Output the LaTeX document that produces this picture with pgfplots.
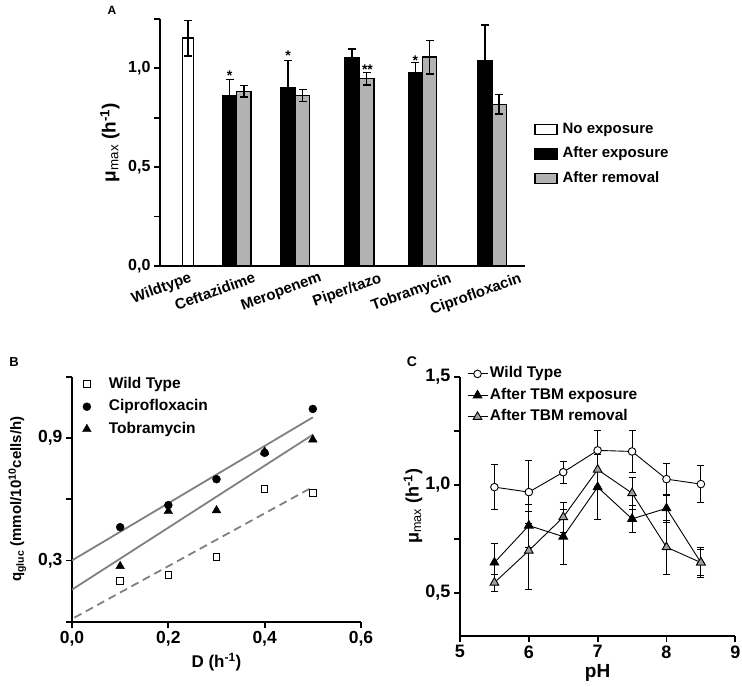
\documentclass[border=0pt]{standalone}
\usepackage{pgfplots}
\pgfplotsset{compat=1.18}
\usepackage{fontspec}
\setmainfont{Liberation Sans}
\newcommand\fs[1]{\fontsize{#1}{#1}\selectfont\bfseries}
\definecolor{bargray}{RGB}{178,178,178}
\definecolor{tri}{RGB}{160,160,160}
\definecolor{lgray}{RGB}{128,128,128}
\pgfplotsset{
  onedec/.style={/pgf/number format/fixed, /pgf/number format/fixed zerofill,
    /pgf/number format/precision=1, /pgf/number format/use comma},
  common/.style={
    scale only axis, anchor=south west,
    axis lines=left, axis line style={-, line width=1.8pt},
    tick align=outside, major tick length=6pt, minor tick length=6pt,
    every tick/.style={black, line width=1.8pt},
    /pgf/number format/assume math mode=true,
    yticklabel style={onedec},
    legend cell align=left,
  },
}
\begin{document}
\begin{tikzpicture}
\path[use as bounding box] (0,0) rectangle (742pt,686pt);
% ---------------- Panel A ----------------
\begin{axis}[common,
  at={(160pt,420pt)}, width=365pt, height=247pt,
  xmin=0, xmax=365, ymin=0, ymax=1.25,
  ytick={0,0.5,1}, minor ytick={0.25,0.75,1.25},
  yticklabel style={font=\fs{16}},
  xtick={30,94,160,220,290,360},
  xticklabels={Wildtype,Ceftazidime,Meropenem,Piper/tazo,Tobramycin,Ciprofloxacin},
  xticklabel style={rotate=20, anchor=north east, inner sep=1pt, yshift=2pt, font=\fs{15}},
  major x tick style={draw=none},
  ylabel={μ\textsubscript{\mdseries max} (h\textsuperscript{-1})},
  ylabel style={at={(axis description cs:-0.137,0.5)}, anchor=center, font=\fs{19}},
  legend style={at={(1.025,0.453)}, anchor=west, draw=none, fill=none,
    font=\fs{15}, row sep=4pt, column sep=3pt, inner sep=0pt,
    nodes={text height=11pt, text depth=3.5pt, inner ysep=3pt}},
]
\addplot[ybar, bar shift=0pt, bar width=11pt, fill=white, draw=black, line width=1.5pt,
  legend image code/.code={\draw[fill=white,draw=black,line width=1.3pt] (0pt,-5pt) rectangle (22pt,5pt);},
  error bars/.cd, y dir=both, y explicit,
  error bar style={line width=1.5pt, black},
  error mark options={rotate=90, mark size=4pt, line width=1.5pt, black}]
  coordinates {(27.8,1.153) +- (0,0.09)};
\addlegendentry{No exposure}
\addplot[ybar, bar shift=0pt, bar width=14.3pt, fill=black, draw=black, line width=1.2pt,
  legend image code/.code={\draw[fill=black,draw=black,line width=1.3pt] (0pt,-5pt) rectangle (22pt,5pt);},
  error bars/.cd, y dir=both, y explicit,
  error bar style={line width=1.5pt, black},
  error mark options={rotate=90, mark size=4pt, line width=1.5pt, black}]
  coordinates {(69.5,0.864) +- (0,0.08) (128.2,0.901) +- (0,0.14) (192.2,1.057) +- (0,0.04)
               (255.3,0.98) +- (0,0.05) (325,1.040) +- (0,0.18)};
\addlegendentry{After exposure}
\addplot[ybar, bar shift=0pt, bar width=14.3pt, fill=bargray, draw=black, line width=1.5pt,
  legend image code/.code={\draw[fill=bargray,draw=black,line width=1.3pt] (0pt,-5pt) rectangle (22pt,5pt);},
  error bars/.cd, y dir=both, y explicit,
  error bar style={line width=1.5pt, black},
  error mark options={rotate=90, mark size=4pt, line width=1.5pt, black}]
  coordinates {(83.8,0.884) +- (0,0.03) (142.5,0.862) +- (0,0.03) (206.7,0.948) +- (0,0.032)
               (269.5,1.057) +- (0,0.085) (339.2,0.818) +- (0,0.05)};
\addlegendentry{After removal}
\node[font=\fs{14}] at (axis cs:69.5,0.965) {*};
\node[font=\fs{14}] at (axis cs:128.2,1.066) {*};
\node[font=\fs{14}] at (axis cs:207.5,0.995) {**};
\node[font=\fs{14}] at (axis cs:255.3,1.04) {*};
\end{axis}
\node[font=\fs{12}] at (112pt,676pt) {A};
% ---------------- Panel B ----------------
\begin{axis}[common,
  at={(72pt,64.3pt)}, width=289pt, height=245pt,
  xmin=0, xmax=0.6, ymin=0, ymax=1.2,
  xtick={0,0.2,0.4,0.6}, ytick={0.3,0.9}, minor ytick={0,0.6,1.2},
  xticklabel style={onedec},
  ticklabel style={font=\fs{17.5}},
  xlabel={D (h\textsuperscript{-1})}, ylabel={q\textsubscript{gluc} (mmol/10\textsuperscript{10}cells/h)},
  xlabel style={at={(axis description cs:0.5,-0.165)}, anchor=center, font=\fs{17}},
  ylabel style={at={(axis description cs:-0.189,0.5)}, anchor=center, font=\fs{15}},
  legend style={at={(axis description cs:0.03,1.013)}, anchor=north west, draw=none, fill=none,
    font=\fs{15.5}, row sep=1.5pt, column sep=2pt, inner sep=0pt,
    nodes={text height=11.5pt, text depth=3.5pt, inner ysep=3pt}},
  legend image code/.code={\path[draw=none, fill=none] (0pt,0pt) -- (24pt,0pt); \draw[#1] plot coordinates {(6pt,0pt)};},
]
\addplot[lgray, line width=1.8pt, forget plot] coordinates {(0,0.3) (0.5,1.001)};
\addplot[lgray, line width=1.8pt, forget plot] coordinates {(0,0.157) (0.5,0.916)};
\addplot[lgray, line width=1.8pt, dash pattern=on 8pt off 5pt, forget plot] coordinates {(0.005,0.02) (0.5,0.66)};
\addplot[only marks, mark=square*, mark size=3.3pt, mark options={fill=white, draw=black, line width=1pt}]
  coordinates {(0.1,0.199) (0.2,0.228) (0.3,0.316) (0.4,0.649) (0.5,0.631)};
\addlegendentry{Wild Type}
\addplot[only marks, mark=*, mark size=4pt, mark options={fill=black, draw=black}]
  coordinates {(0.1,0.463) (0.2,0.571) (0.3,0.698) (0.4,0.827) (0.5,1.042)};
\addlegendentry{Ciprofloxacin}
\addplot[only marks, mark=triangle*, mark size=5pt, mark options={fill=black, draw=black}]
  coordinates {(0.1,0.272) (0.2,0.541) (0.3,0.545) (0.4,0.832) (0.5,0.892)};
\addlegendentry{Tobramycin}
\end{axis}
\node[font=\fs{13}] at (14pt,324pt) {B};
% ---------------- Panel C ----------------
\begin{axis}[common,
  at={(460pt,50pt)}, width=275.3pt, height=259.3pt,
  xmin=5, xmax=9, ymin=0.3, ymax=1.5,
  xtick={5,6,7,8,9}, ytick={0.5,1,1.5}, minor ytick={0.75,1.25},
  ticklabel style={font=\fs{18}},
  xlabel={pH}, ylabel={μ\textsubscript{\mdseries max} (h\textsuperscript{-1})},
  xlabel style={at={(axis description cs:0.5,-0.143)}, anchor=center, font=\fs{19}},
  ylabel style={at={(axis description cs:-0.171,0.5)}, anchor=center, font=\fs{18}},
  legend style={at={(axis description cs:0.025,1.052)}, anchor=north west, draw=none, fill=none,
    font=\fs{15.5}, row sep=0.5pt, inner sep=0pt,
    nodes={text height=11.5pt, text depth=3.5pt, inner ysep=3pt}},
  legend image code/.code={\draw[mark repeat=2, mark phase=2, #1] plot coordinates {(0pt,0pt) (10pt,0pt) (20pt,0pt)};},
]
\addplot[black, line width=0.9pt, mark=*, mark size=3.8pt, mark options={fill=white, draw=black, line width=0.9pt},
  error bars/.cd, y dir=both, y explicit,
  error bar style={line width=0.9pt, black},
  error mark options={rotate=90, mark size=3.5pt, line width=0.9pt, black}]
  coordinates {(5.5,0.989) +- (0,0.105) (6,0.966) +- (0,0.147) (6.5,1.058) +- (0,0.05)
               (7,1.159) +- (0,0.093) (7.5,1.154) +- (0,0.097) (8,1.026) +- (0,0.074) (8.5,1.003) +- (0,0.085)};
\addlegendentry{Wild Type}
\addplot[black, line width=0.9pt, mark=triangle*, mark size=5pt, mark options={fill=black, draw=black, line width=0.9pt},
  error bars/.cd, y dir=both, y explicit,
  error bar style={line width=0.9pt, black},
  error mark options={rotate=90, mark size=3.5pt, line width=0.9pt, black}]
  coordinates {(5.5,0.64) +- (0,0.09) (6,0.811) +- (0,0.1) (6.5,0.76) +- (0,0.127)
               (7,0.989) +- (0,0.15) (7.5,0.842) +- (0,0.062) (8,0.891) +- (0,0.065) (8.5,0.64) +- (0,0.06)};
\addlegendentry{After TBM exposure}
\addplot[black, line width=0.9pt, mark=triangle*, mark size=5pt, mark options={fill=tri, draw=black, line width=0.9pt},
  error bars/.cd, y dir=both, y explicit,
  error bar style={line width=0.9pt, black},
  error mark options={rotate=90, mark size=3.5pt, line width=0.9pt, black}]
  coordinates {(5.5,0.547) +- (0,0.04) (6,0.695) +- (0,0.18) (6.5,0.85) +- (0,0.07)
               (7,1.07) +- (0,0.08) (7.5,0.961) +- (0,0.075) (8,0.711) +- (0,0.124) (8.5,0.64) +- (0,0.07)};
\addlegendentry{After TBM removal}
\end{axis}
\node[font=\fs{14}] at (412pt,324pt) {C};
\end{tikzpicture}
\end{document}
